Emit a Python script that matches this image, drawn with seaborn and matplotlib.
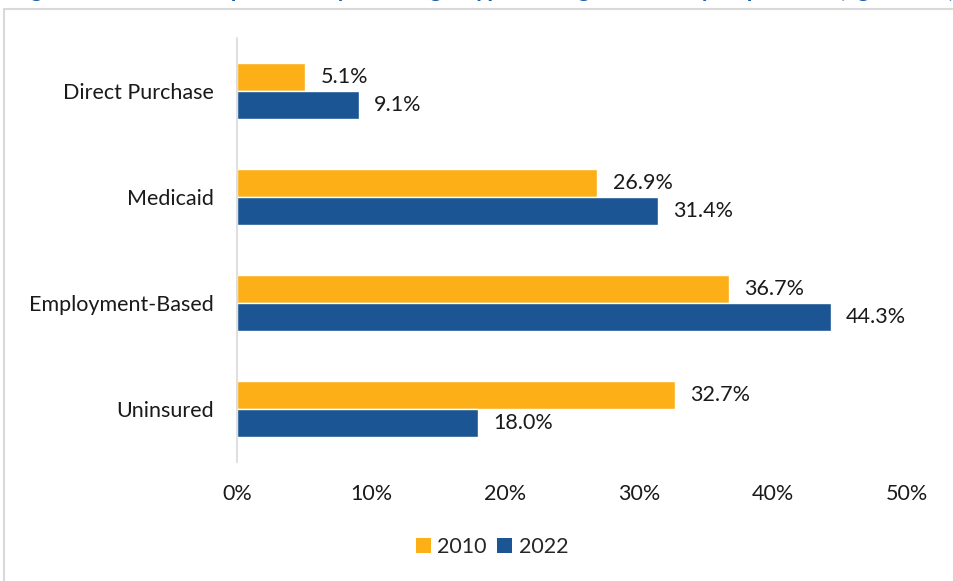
import matplotlib
matplotlib.use("Agg")
import matplotlib.pyplot as plt
import seaborn as sns
import pandas as pd
from matplotlib.patches import Rectangle, Patch

categories = ["Direct Purchase", "Medicaid", "Employment-Based", "Uninsured"]
years = ["2010", "2022"]
values_2010 = [5.1, 26.9, 36.7, 32.7]
values_2022 = [9.1, 31.4, 44.3, 18.0]
x_ticks = [0, 10, 20, 30, 40, 50]
title = "Figure 5: Share of Population by Coverage Type among Nonelderly Population (ages 0-64)"

colors = {"2010": "#FCAF17", "2022": "#1B5593"}

df = pd.DataFrame({
    "category": categories * 2,
    "year": ["2010"] * len(categories) + ["2022"] * len(categories),
    "value": values_2010 + values_2022,
})

sns.set_theme(style="white")
plt.rcParams["font.family"] = ["Lato", "DejaVu Sans"]
FS = 15.5

fig = plt.figure(figsize=(9.54, 5.81), dpi=100)
ax = fig.add_axes([237 / 954, 119 / 581, 670 / 954, 424 / 581])

sns.barplot(data=df, y="category", x="value", hue="year", order=categories,
            hue_order=years, palette=colors, orient="h", width=0.52,
            ax=ax, legend=False, saturation=1)

for container in ax.containers:
    ax.bar_label(container, labels=[f"{v:.1f}%" for v in container.datavalues],
                 padding=11, fontsize=FS, color="#1a1a1a")

ax.set_xlim(0, 50)
ax.set_ylim(3.5, -0.5)
ax.set_xticks(x_ticks)
ax.set_xticklabels([f"{t}%" for t in x_ticks], fontsize=FS, color="#1a1a1a")
ax.tick_params(axis="x", pad=16, length=0)
ax.tick_params(axis="y", pad=17, length=0, labelsize=FS, labelcolor="#1a1a1a")
ax.set_xlabel("")
ax.set_ylabel("")
for s in ["top", "right", "bottom"]:
    ax.spines[s].set_visible(False)
ax.spines["left"].set_color("#D9D9D9")
ax.spines["left"].set_linewidth(1.2)
ax.grid(False)

handles = [Patch(facecolor=colors[y], edgecolor="none", label=y) for y in years]
fig.legend(handles=handles, loc="center", bbox_to_anchor=(492 / 954, 1 - 547 / 581),
           ncol=2, frameon=False, fontsize=FS, handlelength=0.7, handleheight=0.7,
           handletextpad=0.3, columnspacing=0.5)

fig.patches.append(Rectangle((4 / 954, -0.1), 1.2, 1 - 9 / 581 + 0.1,
                             transform=fig.transFigure, fill=False,
                             edgecolor="#D9D9D9", linewidth=1.5, zorder=0))

fig.text(0.012, 1.0 + 3 / 581, title, fontsize=17, fontweight="bold", color="#1F5FA8",
         ha="left", va="baseline")

fig.savefig("out.png", dpi=100)
